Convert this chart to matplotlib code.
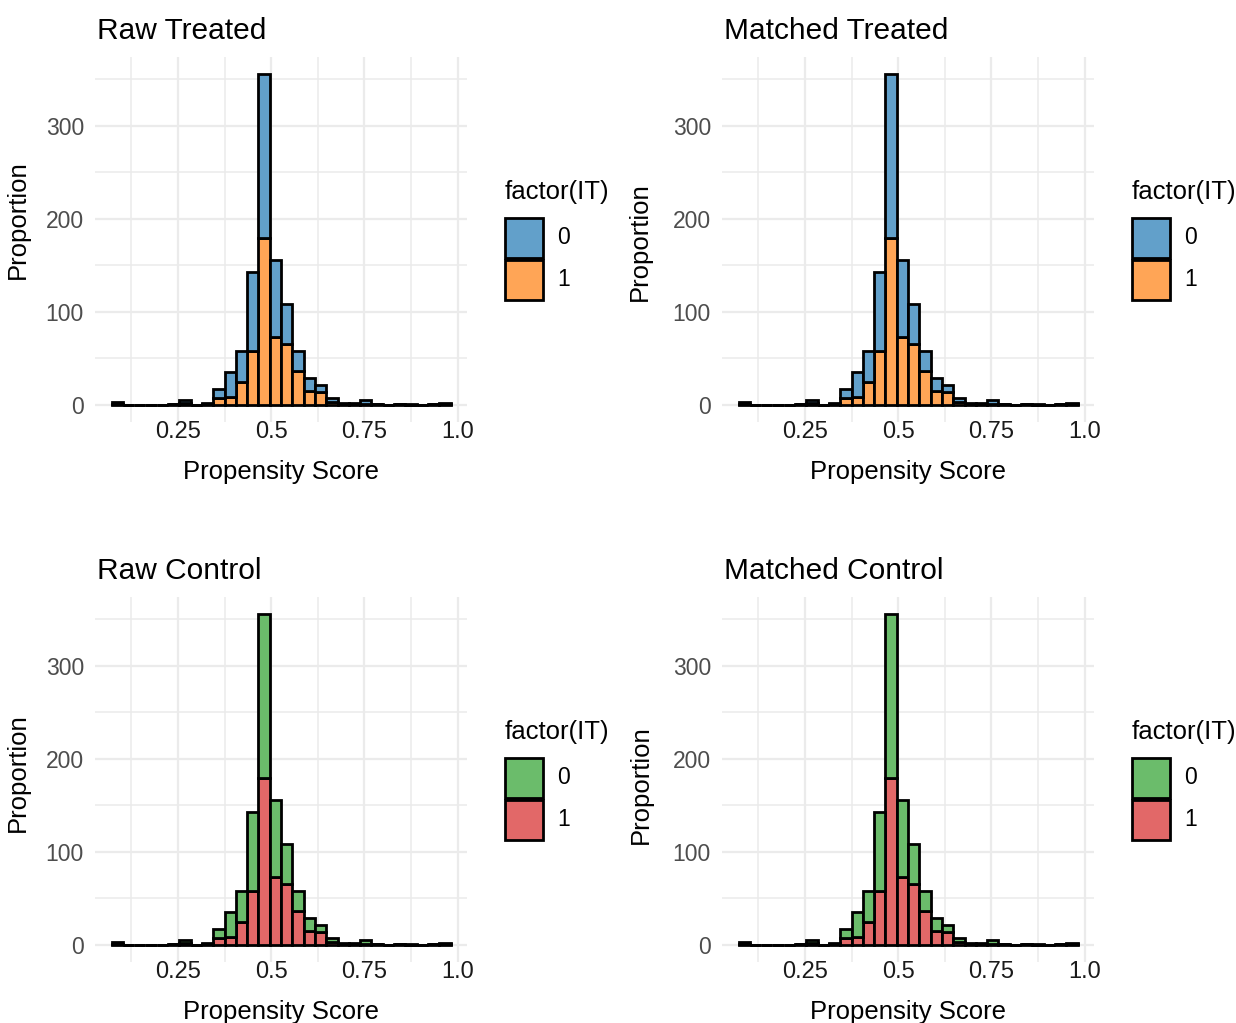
import numpy as np
import matplotlib
matplotlib.use("Agg")
import matplotlib.pyplot as plt
from matplotlib.patches import Rectangle

plt.rcParams['font.family'] = ['Liberation Sans', 'DejaVu Sans']

# ---- data (counts per propensity-score bin) ----
bin_start = 0.072
bin_width = 0.0303
count_it1 = [1, 0, 0, 0, 0, 1, 2, 0, 1, 8, 9, 25, 58, 179, 73, 65, 37, 15, 14, 3,
             1, 1, 1, 1, 0, 1, 0, 0, 1, 1]
count_it0 = [2, 0, 0, 0, 0, 0, 3, 0, 1, 9, 26, 33, 85, 177, 83, 44, 21, 14, 7, 4,
             1, 1, 4, 0, 0, 0, 1, 0, 0, 1]
titles = ["Raw Treated", "Matched Treated", "Raw Control", "Matched Control"]
legend_levels = ["0", "1"]
x_ticks = [0.25, 0.5, 0.75, 1.0]
x_ticklabels = ["0.25", "0.5", "0.75", "1.0"]
y_ticks = [0, 100, 200, 300]
palettes = {
    "treated": ["#62A0CA", "#FFA556"],
    "control": ["#6BBC6B", "#E26868"],
}

W, H = 1236, 1023
fig = plt.figure(figsize=(W / 100, H / 100), dpi=100)
fig.patch.set_facecolor("white")

def fx(px):
    return px / W

def fy(py):
    return 1 - py / H

# panel layout in pixels: (left, top, right, bottom), ylabel center y, ylabel right x
panels = [
    (95, 57, 467, 422, 220, 30, "treated", 0),
    (722, 57, 1094, 422, 242, 652, "treated", 1),
    (95, 597, 467, 962, 773, 30, "control", 2),
    (722, 597, 1094, 962, 785, 653, "control", 3),
]

n = len(count_it0)
edges = bin_start + bin_width * np.arange(n + 1)
lefts = edges[:-1]
c0 = np.array(count_it0)
c1 = np.array(count_it1)

for (l, t, r, b, ylab_y, ylab_x, pal, idx) in panels:
    ax = fig.add_axes([fx(l), fy(b), fx(r) - fx(l), fy(t) - fy(b)])
    ax.set_facecolor("white")
    cols = palettes[pal]
    ax.bar(lefts, c1, width=bin_width, align="edge", color=cols[1],
           edgecolor="black", linewidth=2.0, zorder=3)
    ax.bar(lefts, c0, width=bin_width, bottom=c1, align="edge", color=cols[0],
           edgecolor="black", linewidth=2.0, zorder=3)
    ax.set_xlim(0.0276, 1.025)
    ax.set_ylim(-18.3, 374)
    ax.set_xticks(x_ticks)
    ax.set_xticklabels(x_ticklabels)
    ax.set_yticks(y_ticks)
    ax.set_xticks([0.125, 0.375, 0.625, 0.875], minor=True)
    ax.set_yticks([50, 150, 250, 350], minor=True)
    ax.grid(which="major", color="#EBEBEB", linewidth=1.6, zorder=0)
    ax.grid(which="minor", color="#EBEBEB", linewidth=1.1, zorder=0)
    ax.set_axisbelow(True)
    for s in ax.spines.values():
        s.set_visible(False)
    ax.tick_params(axis="both", which="both", length=0)
    ax.tick_params(axis="x", labelsize=17, labelcolor="#1a1a1a", pad=-1)
    ax.tick_params(axis="y", labelsize=16.5, labelcolor="#4D4D4D", pad=8)
    ax.set_xlabel("Propensity Score", fontsize=18.5, color="black")
    ax.xaxis.set_label_coords(0.5, -38 / (b - t))
    ax.set_ylabel("Proportion", fontsize=18.5, color="black")
    ax.yaxis.set_label_coords((ylab_x - l) / (r - l), (b - ylab_y) / (b - t))
    # title
    fig.text(fx(l + 2), fy(t - 18), titles[idx], fontsize=21.5, color="black",
             ha="left", va="baseline")
    # legend
    lx = 505 if l < 400 else 1132
    fig.text(fx(lx), fy(t + 135), "factor(IT)", fontsize=18.5, color="black",
             ha="left", va="center")
    key_tops = [t + 161, t + 203]
    for k, lev in enumerate(legend_levels):
        kt = key_tops[k]
        rect = Rectangle((fx(lx), fy(kt + 40)), fx(38), 40 / H,
                         transform=fig.transFigure, facecolor=cols[k],
                         edgecolor="black", linewidth=2.0)
        fig.add_artist(rect)
        fig.text(fx(lx + 52), fy(kt + 20), lev, fontsize=16.5, color="black",
                 ha="left", va="center")

fig.savefig("out.png", dpi=100, facecolor="white")
